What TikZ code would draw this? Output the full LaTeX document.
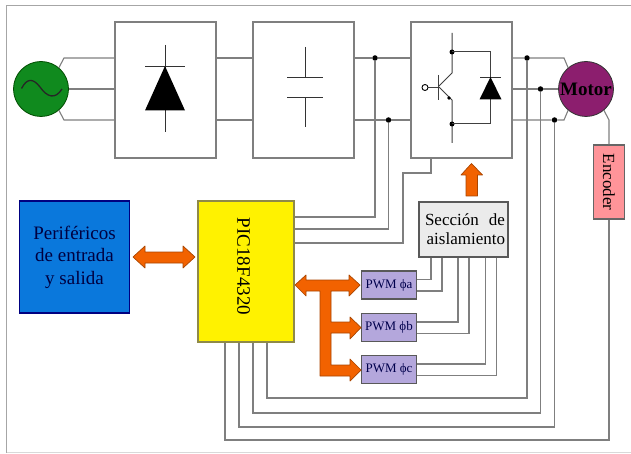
\documentclass[tikz,border=0pt]{standalone}
\usepackage{fontspec}
\setmainfont{Liberation Serif}
\usepackage{xcolor}
\definecolor{wirecol}{HTML}{7F7F7F}
\definecolor{orangecol}{HTML}{F26200}
\definecolor{pwmcol}{HTML}{B4A7DC}
\definecolor{perifcol}{HTML}{0A78DC}
\definecolor{sourcecol}{HTML}{108A1E}
\definecolor{motorcol}{HTML}{8C1E6E}
\definecolor{enccol}{HTML}{FF9499}
\tikzset{
  wire/.style={draw=wirecol,line width=1.1pt},
  block/.style={draw=wirecol,line width=1.1pt,fill=white,inner sep=0pt},
  fatarrow/.style={draw=orangecol!70!black,line width=0.7pt,fill=orangecol,line join=round},
  joint/.style={circle,fill=black,inner sep=0pt,minimum size=5.5pt},
  pwmbox/.style={block,draw=black!65,fill=pwmcol,minimum width=55pt,minimum height=28pt,
    text=black!70!blue,font=\fontsize{13}{15}\selectfont}
}
\begin{document}
\begin{tikzpicture}[x=1pt,y=-1pt]
  \useasboundingbox (0,0) rectangle (631,454);
  \draw[black!35,line width=1pt] (631,5.5) -- (6.5,5.5) -- (6.5,452.5);
  \draw[black!15,line width=1pt] (6.5,452.5) -- (631,452.5);

  % power stage
  \node[circle,draw=green!30!black,line width=0.8pt,fill=sourcecol,minimum size=55pt,inner sep=0pt] (source) at (41,89) {};
  \node[block,minimum width=101pt,minimum height=136pt] (rect) at (165.5,90) {};
  \node[block,minimum width=101pt,minimum height=136pt] (filter) at (303.5,90) {};
  \node[block,minimum width=101pt,minimum height=136pt] (inv) at (461.5,90) {};
  \node[circle,draw=black!80,line width=0.8pt,fill=motorcol,minimum size=55pt,inner sep=0pt,font=\fontsize{19}{21}\selectfont\bfseries] (motor) at (586,89) {Motor};
  \node[block,draw=black!60,fill=enccol,minimum width=30.5pt,minimum height=74pt] (enc) at (609,182) {\rotatebox{-90}{\fontsize{17}{19}\selectfont Encoder}};

  % control stage
  \node[block,draw=blue!50!black,fill=perifcol,minimum width=110pt,minimum height=112pt,align=center,text=blue!25!black,font=\fontsize{19}{22.5}\selectfont] (perif) at (74.5,257) {Periféricos\\de entrada\\y salida};
  \node[block,draw=yellow!50!black,fill=yellow,minimum width=96pt,minimum height=141pt] (pic) at (246,271.5) {};
  \node[rotate=-90,inner sep=0pt,font=\fontsize{19}{21}\selectfont] (pictext) at (243.5,266.5) {PIC18F4320};
  \node[block,draw=black!65,fill=black!8,minimum width=89pt,minimum height=55pt,text width=83pt,align=right,font=\fontsize{17}{19}\selectfont] (aisl) at (463.5,229.5) {\makebox[80pt][s]{Sección\hfill de}\\aislamiento};
  \node[pwmbox] (pwma) at (389,285) {PWM ϕa};
  \node[pwmbox] (pwmb) at (389,327.5) {PWM ϕb};
  \node[pwmbox] (pwmc) at (389,369.5) {PWM ϕc};

  % junctions
  \node[joint] (j1) at (375,58) {};
  \node[joint] (j2) at (388.5,120) {};
  \node[joint] (m1) at (527,58) {};
  \node[joint] (m2) at (540.5,89) {};
  \node[joint] (m3) at (554.5,120) {};

  % source to rectifier to filter to inverter
  \draw[wire] (source.50) -- (64,58) -- (rect.west |- 0,58);
  \draw[wire] (source.east) -- (rect.west |- source.east);
  \draw[wire] (source.-50) -- (64,120) -- (rect.west |- 0,120);
  \draw[wire] (rect.east |- j1) -- (filter.west |- j1);
  \draw[wire] (rect.east |- j2) -- (filter.west |- j2);
  \draw[wire] (filter.east |- j1) -- (j1) -- (inv.west |- j1);
  \draw[wire] (filter.east |- j2) -- (j2) -- (inv.west |- j2);

  % inverter to motor
  \draw[wire] (inv.east |- m1) -- (m1) -- (564,58) -- (motor.130);
  \draw[wire] (inv.east |- m2) -- (m2) -- (motor.west);
  \draw[wire] (inv.east |- m3) -- (m3) -- (564,120) -- (motor.-130);
  \draw[wire] (motor.-50) -- (enc.north |- 0,120) -- (enc.north);

  % pic to dc bus
  \draw[wire] (pic.east |- 0,217) -| (j1);
  \draw[wire] (pic.east |- 0,229) -| (j2);
  \draw[wire] (pic.east |- 0,243) -| (403,173) -| (431,0 |- inv.south);

  % pic to phase lines, nested
  \foreach \xa/\yb/\dest in {267/398/m1,253/413/m2,239/427/m3}
    \draw[wire] (pic.south -| \xa,0) |- (\dest |- 0,\yb) -- (\dest);
  \draw[wire] (pic.south -| 225,0) |- (enc.south |- 0,440) -- (enc.south);

  % pwm to aislamiento
  \draw[wire] (pwma.east |- 0,279.5) -| (aisl.south -| 431,0);
  \draw[wire] (pwma.east |- 0,291) -| (aisl.south -| 442,0);
  \draw[wire] (pwmb.east |- 0,322) -| (aisl.south -| 458,0);
  \draw[wire] (pwmb.east |- 0,333.5) -| (aisl.south -| 469,0);
  \draw[wire] (pwmc.east |- 0,364) -| (aisl.south -| 485.5,0);
  \draw[wire] (pwmc.east |- 0,375.5) -| (aisl.south -| 496.5,0);

  % rectifier symbol
  \draw[line width=0.8pt,black!80] (165,45) -- (165,132);
  \draw[line width=0.8pt,black!80] (145,66) -- (185,66);
  \fill (165,66) -- (185,110.5) -- (145,110.5) -- cycle;

  % capacitor symbol
  \draw[line width=0.8pt,black!80] (305,47) -- (305,77) (287,77) -- (323,77);
  \draw[line width=0.8pt,black!80] (305,127) -- (305,97) (287,97) -- (323,97);

  % igbt symbol
  \draw[line width=1pt,black!75] (452,33) -- (452,73) -- (439,86);
  \draw[line width=1pt,black!75] (439,87) -- (450,98) -- (452,100) -- (452,143);
  \draw[line width=1pt,black!75] (438.5,75) -- (438.5,100);
  \draw[line width=1pt,black!75] (428,87.5) -- (438.5,87.5);
  \draw[line width=0.9pt,black,fill=white] (425,87.5) circle (3pt);
  \fill (449,98) circle (1.8pt);
  \fill (452,52) circle (2.5pt) (452,124) circle (2.5pt);
  \draw[line width=1pt,black!75] (452,52) -- (490.5,52) -- (490.5,124) -- (452,124);
  \draw[line width=0.9pt,black!80] (480,77) -- (501,77);
  \fill (490.5,77) -- (501.5,99.5) -- (479.5,99.5) -- cycle;

  % sine
  \draw[line width=1.3pt,black!85] (21.5,88.5) .. controls (27,78) and (33,78) .. (40,87) .. controls (47,97) and (55,100) .. (62,89);

  % thick arrows
  \draw[fatarrow] (133,257) -- (145,246) -- (145,252) -- (183,252) -- (183,246) -- (195,257) -- (183,268) -- (183,263) -- (145,263) -- (145,268) -- cycle;
  \draw[fatarrow] (471.5,163.5) -- (482.5,175) -- (477.5,175) -- (477.5,196) -- (466,196) -- (466,175) -- (461,175) -- cycle;
  \draw[fatarrow] (295,285) -- (306,275) -- (306,280) -- (349,280) -- (349,275) -- (360,285) -- (349,296) -- (349,291) -- (331,291) -- (331,322) -- (350,322) -- (350,317) -- (361,327.5) -- (350,339) -- (350,333) -- (331,333) -- (331,365) -- (350,365) -- (350,359) -- (361,370) -- (350,381) -- (350,376) -- (320,376) -- (320,291) -- (306,291) -- (306,296) -- cycle;
\end{tikzpicture}
\end{document}
